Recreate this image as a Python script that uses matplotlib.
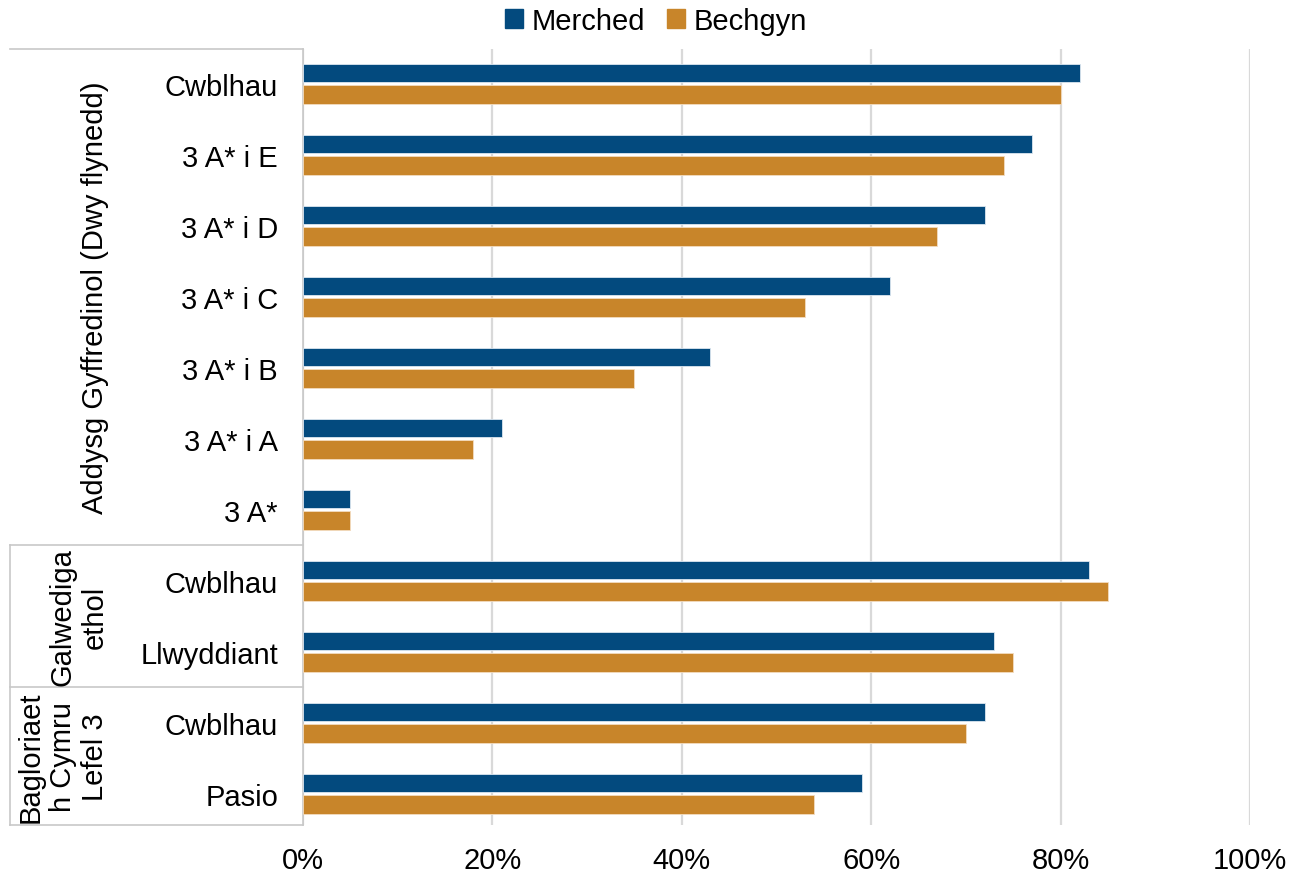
import matplotlib
matplotlib.use("Agg")
import matplotlib.pyplot as plt
import matplotlib.transforms as mtransforms
from matplotlib.lines import Line2D
from matplotlib.patches import Patch
import numpy as np

plt.rcParams['font.family'] = ['Liberation Sans', 'DejaVu Sans']

# data (percent)
groups = ["Addysg Gyffredinol (Dwy flynedd)", "Galwediga\nethol", "Bagloriaet\nh Cymru\nLefel 3"]
categories = ["Cwblhau", "3 A* i E", "3 A* i D", "3 A* i C", "3 A* i B", "3 A* i A", "3 A*",
              "Cwblhau", "Llwyddiant",
              "Cwblhau", "Pasio"]
merched = [82, 77, 72, 62, 43, 21, 5, 83, 73, 72, 59]
bechgyn = [80, 74, 67, 53, 35, 18, 5, 85, 75, 70, 54]
xticks = [0, 20, 40, 60, 80, 100]

navy = "#034a7e"
orange = "#c8852a"
grid_c = "#d9d9d9"
line_c = "#c8c8c8"
fs = 21

fig = plt.figure(figsize=(13.02, 8.79), dpi=100)
ax = fig.add_axes([303 / 1302, 1 - 826 / 879, (1250 - 303) / 1302, (826 - 50) / 879])

y = np.arange(len(categories))
h = 0.26
off = 0.153
ax.barh(y - off, merched, height=h, color=navy, edgecolor="#dce6f0", linewidth=0.6, label="Merched", zorder=3)
ax.barh(y + off, bechgyn, height=h, color=orange, edgecolor="#f3dcc0", linewidth=0.6, label="Bechgyn", zorder=3)

ax.set_xlim(0, 100)
ax.set_ylim(10.44, -0.49)
ax.set_xticks(xticks)
ax.set_xticklabels([f"{v}%" for v in xticks], fontsize=fs)
ax.set_yticks(y)
ax.set_yticklabels(categories, fontsize=fs)
ax.tick_params(axis="both", length=0)
ax.tick_params(axis="y", pad=18)
ax.tick_params(axis="x", pad=15)
ax.grid(axis="x", color=grid_c, linewidth=1.6, zorder=0)
for s in ["top", "right", "bottom"]:
    ax.spines[s].set_visible(False)
ax.spines["left"].set_color(line_c)
ax.spines["left"].set_linewidth(1.2)

# hierarchical category axis lines (x in figure coords, y in data coords)
tr = mtransforms.blended_transform_factory(fig.transFigure, ax.transData)
x0 = 10 / 1302
xa = 303 / 1302
ytop, ybot = -0.49, 10.44
for b in [ytop, 6.5, 8.5, ybot]:
    fig.add_artist(Line2D([x0, xa], [b, b], transform=tr, color=line_c, linewidth=1.2))
fig.add_artist(Line2D([x0, x0], [6.5, ybot], transform=tr, color=line_c, linewidth=1.2))

# group labels
spans = [(ytop, 6.5), (6.5, 8.5), (8.5, ybot)]
for g, (a, b) in zip(groups, spans):
    fig.text(109 / 1302, (a + b) / 2, g, transform=tr, rotation=90, ha="right", va="center",
             multialignment="center", fontsize=fs, linespacing=1.2)

handles = [Patch(color=navy, label="Merched"), Patch(color=orange, label="Bechgyn")]
fig.legend(handles=handles, loc="center", bbox_to_anchor=(656 / 1302, 1 - 22 / 879), ncol=2, frameon=False,
           fontsize=fs, handlelength=0.6, handleheight=0.6, handletextpad=0.3, columnspacing=0.75)

fig.savefig("out.png", dpi=100)
